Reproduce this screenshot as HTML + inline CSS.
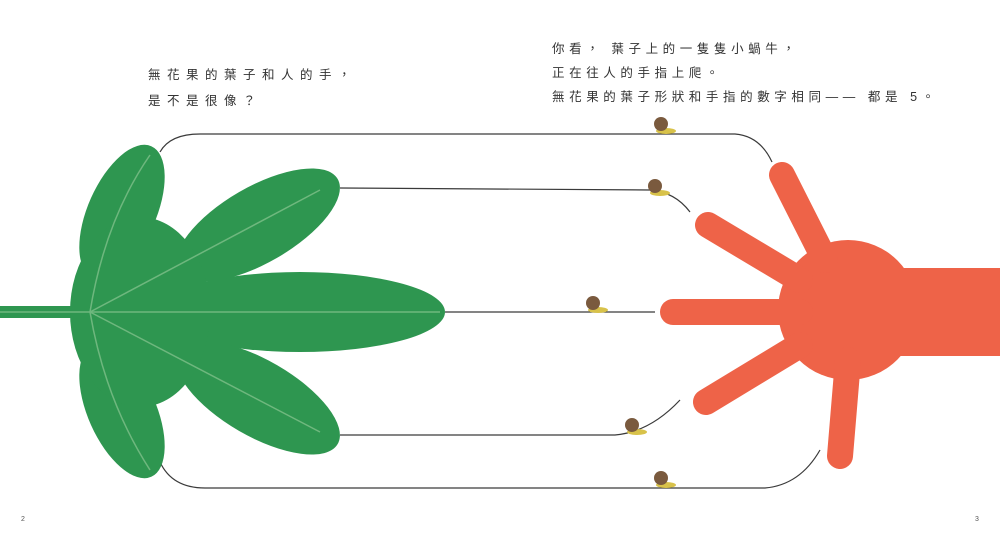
<!DOCTYPE html>
<html><head><meta charset="utf-8"><style>
body{margin:0;background:#fff;width:1000px;height:543px;overflow:hidden;position:relative;font-family:"Liberation Sans","Noto Sans CJK TC",sans-serif}
.t{position:absolute;font-size:12.5px;letter-spacing:4.6px;color:#333;line-height:24px;white-space:nowrap}
.pn{position:absolute;font-size:7px;color:#555}
</style></head><body>
<svg width="1000" height="543" style="position:absolute;left:0;top:0">
<g fill="none" stroke="#3a3a3a" stroke-width="1.2">
<path d="M160,152 Q170,134 200,134 L735,134 Q760,136 772,162"/>
<path d="M340,188 L650,190 Q675,192 690,212"/>
<path d="M445,312 L655,312"/>
<path d="M340,435 L615,435 Q650,432 680,400"/>
<path d="M160,462 Q172,488 205,488 L765,488 Q800,485 820,450"/>
</g>
<g fill="#2e9650">
<rect x="0" y="306" width="120" height="12"/>
<ellipse cx="300" cy="312" rx="145" ry="40"/>
<ellipse cx="258" cy="225" rx="92" ry="38" transform="rotate(-30 258 225)"/>
<ellipse cx="258" cy="398" rx="92" ry="38" transform="rotate(30 258 398)"/>
<ellipse cx="122" cy="212" rx="72" ry="34" transform="rotate(-66 122 212)"/>
<ellipse cx="122" cy="411" rx="72" ry="34" transform="rotate(66 122 411)"/>
<ellipse cx="140" cy="312" rx="70" ry="95"/>
</g>
<g stroke="#7fc08a" stroke-width="1.5" fill="none" opacity="0.8">
<path d="M0,312 L440,312"/><path d="M90,312 L320,190"/><path d="M90,312 L320,432"/><path d="M90,312 Q105,220 150,155"/><path d="M90,312 Q105,400 150,470"/>
</g>
<g fill="#ee6348" stroke="#ee6348" stroke-linecap="round" stroke-width="26">
<circle cx="848" cy="310" r="70" stroke="none"/>
<rect x="880" y="268" width="120" height="88" stroke="none"/>
<line x1="782" y1="175" x2="825" y2="260"/>
<line x1="708" y1="225" x2="800" y2="280"/>
<line x1="673" y1="312" x2="800" y2="312"/>
<line x1="706" y1="402" x2="800" y2="345"/>
<line x1="840" y1="456" x2="848" y2="360"/>
</g>
<g>
<g><ellipse cx="666" cy="131" rx="10" ry="3" fill="#d8c24a"/><circle cx="661" cy="124" r="7" fill="#7a5a3e"/></g>
<g><ellipse cx="660" cy="193" rx="10" ry="3" fill="#d8c24a"/><circle cx="655" cy="186" r="7" fill="#7a5a3e"/></g>
<g><ellipse cx="598" cy="310" rx="10" ry="3" fill="#d8c24a"/><circle cx="593" cy="303" r="7" fill="#7a5a3e"/></g>
<g><ellipse cx="637" cy="432" rx="10" ry="3" fill="#d8c24a"/><circle cx="632" cy="425" r="7" fill="#7a5a3e"/></g>
<g><ellipse cx="666" cy="485" rx="10" ry="3" fill="#d8c24a"/><circle cx="661" cy="478" r="7" fill="#7a5a3e"/></g>
</g>
</svg>
<div class="t" style="left:148px;top:62px;line-height:26px;letter-spacing:6.5px">無花果的葉子和人的手，<br>是不是很像？</div>
<div class="t" style="left:552px;top:37px">你看，&nbsp;葉子上的一隻隻小蝸牛，<br>正在往人的手指上爬。<br>無花果的葉子形狀和手指的數字相同——&nbsp;都是&nbsp;5。</div>
<div class="pn" style="left:21px;top:516px">2</div>
<div class="pn" style="left:975px;top:516px">3</div>
</body></html>
